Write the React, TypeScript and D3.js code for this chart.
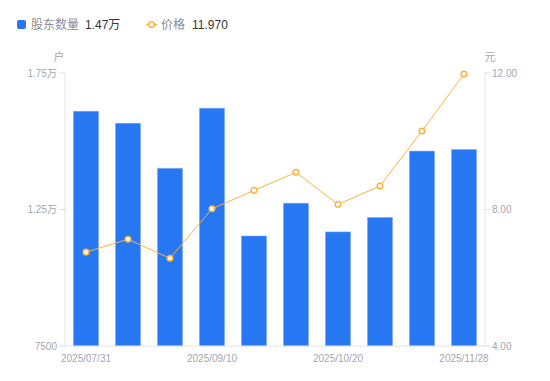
import React from "react";
import * as d3 from "d3";

const categories = [
  "2025/07/31", "2025/08/20", "2025/08/31", "2025/09/10", "2025/09/19",
  "2025/09/30", "2025/10/20", "2025/10/31", "2025/11/10", "2025/11/28",
];
const holders = [16100, 15660, 14010, 16210, 11530, 12730, 11680, 12210, 14640, 14700];
const prices = [6.75, 7.13, 6.57, 8.02, 8.56, 9.09, 8.15, 8.69, 10.30, 11.97];
const leftTicks = [7500, 12500, 17500];
const leftTickLabels = ["7500", "1.25万", "1.75万"];
const rightTicks = [4, 8, 12];
const shownLabels = ["2025/07/31", "2025/09/10", "2025/10/20", "2025/11/28"];

const W = 550, H = 381;
const L = 65, R = 485, T = 73, B = 346;
const FONT = "'Liberation Sans', Arial, 'Noto Sans CJK SC', sans-serif";
const AX = "#a3a6b0";
const BLUE = "#2777f2";
const ORANGE = "#fbb33d";

export default function App() {
  const x = d3.scaleBand().domain(categories).range([L, R]).paddingInner(0.4).paddingOuter(0.2);
  const yL = d3.scaleLinear().domain([7500, 17500]).range([B, T]);
  const yR = d3.scaleLinear().domain([4, 12]).range([B, T]);
  const cx = (c: string) => (x(c) as number) + x.bandwidth() / 2;
  const line = d3.line<number>().x((_, i) => cx(categories[i])).y((d) => yR(d));

  return (
    <svg width={W} height={H} style={{ position: "absolute", left: 0, top: 0, fontFamily: FONT }}>
      <rect width={W} height={H} fill="#fff" />
      {/* legend */}
      <rect x={17} y={20} width={9} height={9} rx={2} fill={BLUE} />
      <text x={31} y={29} fontSize={12} fill="#8a8d96">股东数量</text>
      <text x={85} y={29} fontSize={12} fill="#333">1.47万</text>
      <line x1={146} x2={157} y1={24.5} y2={24.5} stroke={ORANGE} strokeWidth={1.5} />
      <circle cx={151.5} cy={24.5} r={2.8} fill="#fff" stroke={ORANGE} strokeWidth={1.5} />
      <text x={161} y={29} fontSize={12} fill="#8a8d96">价格</text>
      <text x={192} y={29} fontSize={12} fill="#333">11.970</text>

      {/* units */}
      <text x={59} y={61} fontSize={11} fill={AX} textAnchor="middle">户</text>
      <text x={490} y={61} fontSize={11} fill={AX} textAnchor="middle">元</text>

      {/* axes */}
      <line x1={L} x2={L} y1={T} y2={B} stroke="#e3e4e8" />
      <line x1={R} x2={R} y1={T} y2={B} stroke="#e3e4e8" />
      {leftTicks.map((t, i) => (
        <g key={"l" + t}>
          <line x1={L - 6} x2={L} y1={yL(t)} y2={yL(t)} stroke="#dcdde2" />
          <text x={L - 8} y={yL(t) + 3.5} fontSize={10} fill={AX} textAnchor="end">{leftTickLabels[i]}</text>
        </g>
      ))}
      {rightTicks.map((t) => (
        <g key={"r" + t}>
          <line x1={R} x2={R + 5} y1={yR(t)} y2={yR(t)} stroke="#dcdde2" />
          <text x={R + 7} y={yR(t) + 3.5} fontSize={10} fill={AX}>{t.toFixed(2)}</text>
        </g>
      ))}

      {/* bars */}
      {holders.map((v, i) => (
        <rect key={i} x={x(categories[i])} y={yL(v)} width={x.bandwidth()} height={B - yL(v)}
          fill={BLUE} stroke="#8ab4f8" strokeOpacity={0.6} strokeWidth={0.8} />
      ))}
      <line x1={L} x2={R} y1={B} y2={B} stroke="#e3e4e8" />
      {shownLabels.map((c) => (
        <text key={c} x={cx(c)} y={362} fontSize={10} fill={AX} textAnchor="middle">{c}</text>
      ))}

      {/* price line */}
      <path d={line(prices) || ""} fill="none" stroke={ORANGE} strokeWidth={1} />
      {prices.map((p, i) => (
        <circle key={i} cx={cx(categories[i])} cy={yR(p)} r={2.8} fill="#fff" stroke={ORANGE} strokeWidth={1.5} />
      ))}
    </svg>
  );
}
